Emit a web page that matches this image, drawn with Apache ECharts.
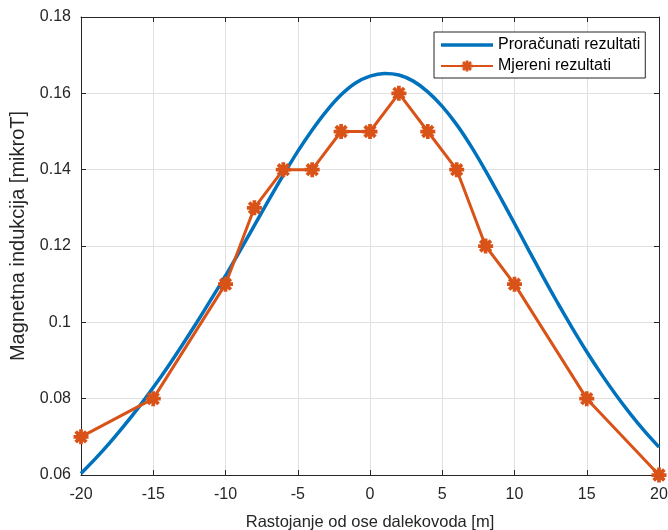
<!DOCTYPE html>
<html>
<head>
<meta charset="utf-8">
<script src="https://cdn.jsdelivr.net/npm/echarts@6/dist/echarts.min.js"></script>
<style>
html,body{margin:0;padding:0;background:#fff;}
#chart{width:668px;height:530px;}
</style>
</head>
<body>
<div id="chart"></div>
<script>
// Computed curve (Proračunati rezultati)
const calcX = [-20,-19,-18,-17,-16,-15,-14,-13,-12,-11,-10,-9,-8,-7,-6,-5,-4,-3,-2,-1,0,1,2,3,4,5,6,7,8,9,10,11,12,13,14,15,16,17,18,19,20];
const calcY = [0.0604,0.0643,0.0685,0.0730,0.0778,0.0829,0.0883,0.0940,0.0999,0.1060,0.1122,0.1187,0.1254,0.1321,0.1386,0.1448,0.1504,0.1554,0.1596,0.1627,0.1645,0.1652,0.1648,0.1632,0.1604,0.1566,0.1518,0.1461,0.1397,0.1329,0.1259,0.1188,0.1118,0.1050,0.0985,0.0923,0.0865,0.0811,0.0761,0.0715,0.0673];
// Measured (Mjereni rezultati)
const measX = [-20,-15,-10,-8,-6,-4,-2,0,2,4,6,8,10,15,20];
const measY = [0.07,0.08,0.11,0.13,0.14,0.14,0.15,0.15,0.16,0.15,0.14,0.12,0.11,0.08,0.06];
const seriesNames = ['Proračunati rezultati','Mjereni rezultati'];
const xName = 'Rastojanje od ose dalekovoda [m]';
const yName = 'Magnetna indukcija [mikroT]';

const c = 0.7071, w = 1.5, L = 6;
function rect(dx, dy) {
  const nx = -dy, ny = dx;
  const p = [[-L*dx - w*nx, -L*dy - w*ny],[L*dx - w*nx, L*dy - w*ny],[L*dx + w*nx, L*dy + w*ny],[-L*dx + w*nx, -L*dy + w*ny]];
  return 'M' + p.map(q => q[0].toFixed(3) + ' ' + q[1].toFixed(3)).join(' L') + ' Z';
}
const asterisk = 'path://' + [rect(1,0), rect(0,1), rect(c,c), rect(c,-c)].join(' ');
const lineIcon = 'path://M0 0 L52 0 L52 3.5 L0 3.5 Z';

const txt = '#262626';
const font = 'Liberation Sans, Arial, Helvetica, sans-serif';
const chart = echarts.init(document.getElementById('chart'));
const axisCommonX = {
  type: 'value', min: -20, max: 20, interval: 5,
  axisLine: {show: true, onZero: false, lineStyle: {color: txt, width: 1}},
  axisTick: {show: true, inside: true, length: 5, lineStyle: {color: txt}},
  splitLine: {show: false}
};
const axisCommonY = {
  type: 'value', min: 0.06, max: 0.18, interval: 0.02,
  axisLine: {show: true, onZero: false, lineStyle: {color: txt, width: 1}},
  axisTick: {show: true, inside: true, length: 5, lineStyle: {color: txt}},
  splitLine: {show: false}
};
chart.setOption({
  backgroundColor: '#fff',
  animation: false,
  grid: {left: 81, right: 9, top: 17, bottom: 55, containLabel: false, outerBoundsMode: 'none'},
  legend: {
    data: [{name: seriesNames[0], icon: lineIcon}, {name: seriesNames[1]}],
    orient: 'vertical',
    left: 434, top: 32,
    backgroundColor: '#fff',
    borderColor: txt, borderWidth: 1,
    padding: [5, 5, 4, 6],
    itemGap: 5,
    itemWidth: 52, itemHeight: 14,
    textStyle: {color: '#000', fontSize: 16, fontFamily: font}
  },
  xAxis: [
    Object.assign({}, axisCommonX, {
      position: 'bottom',
      name: xName, nameLocation: 'middle', nameGap: 39,
      nameTextStyle: {color: txt, fontSize: 16.5, fontFamily: font},
      axisLabel: {color: txt, fontSize: 16, fontFamily: font, margin: 12},
      splitLine: {show: true, lineStyle: {color: '#e1e1e1', width: 1}}
    }),
    Object.assign({}, axisCommonX, {position: 'top', axisLabel: {show: false}})
  ],
  yAxis: [
    Object.assign({}, axisCommonY, {
      position: 'left',
      name: yName, nameLocation: 'middle', nameGap: 48,
      nameTextStyle: {color: txt, fontSize: 20, fontFamily: font, padding: [0, 0, 0, 20]},
      axisLabel: {color: txt, fontSize: 16, fontFamily: font, margin: 10,
        formatter: v => String(+v.toFixed(2))},
      splitLine: {show: true, lineStyle: {color: '#e1e1e1', width: 1}}
    }),
    Object.assign({}, axisCommonY, {position: 'right', axisLabel: {show: false}})
  ],
  series: [
    {
      name: seriesNames[0], type: 'line',
      data: calcX.map((x, i) => [x, calcY[i]]),
      smooth: 0.25, symbol: 'none', showSymbol: false,
      lineStyle: {color: '#0072BD', width: 3.5},
      itemStyle: {color: '#0072BD'},
      z: 3
    },
    {
      name: seriesNames[1], type: 'line',
      data: measX.map((x, i) => [x, measY[i]]),
      symbol: asterisk, symbolSize: 15,
      lineStyle: {color: '#D95319', width: 3},
      itemStyle: {color: '#D95319'},
      z: 4
    }
  ]
});
</script>
</body>
</html>
